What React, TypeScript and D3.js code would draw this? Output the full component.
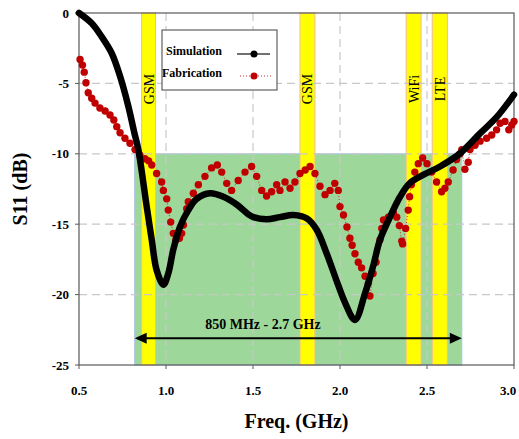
import React from "react";
import * as d3 from "d3";

// simulated S11 (GHz, dB)
const simFreq = [0.5, 0.573, 0.63, 0.688, 0.736, 0.784, 0.818, 0.841, 0.889, 0.918, 0.946, 0.985, 1.013, 1.042, 1.08, 1.128, 1.176, 1.253, 1.33, 1.406, 1.473, 1.502, 1.578, 1.655, 1.732, 1.81, 1.866, 1.924, 1.98, 2.03, 2.086, 2.144, 2.19, 2.23, 2.287, 2.345, 2.4, 2.478, 2.575, 2.69, 2.805, 2.9, 3.0];
const simS11 = [0, -0.73, -1.68, -2.86, -4.5, -6.65, -8.5, -9.7, -13.75, -16.1, -18.25, -19.3, -18.5, -16.8, -15.2, -14.0, -13.2, -12.8, -13.05, -13.6, -14.3, -14.5, -14.65, -14.5, -14.35, -14.6, -15.4, -17.1, -19.0, -20.6, -21.8, -19.9, -18.0, -16.1, -14.5, -13.05, -12.1, -11.5, -10.9, -9.97, -8.55, -7.4, -5.8];

// measured S11 (GHz, dB)
const fabFreq = [0.506, 0.52, 0.53, 0.54, 0.553, 0.573, 0.592, 0.62, 0.65, 0.678, 0.7, 0.717, 0.736, 0.764, 0.793, 0.822, 0.85, 0.879, 0.9, 0.918, 0.946, 0.975, 0.985, 1.004, 1.013, 1.027, 1.042, 1.057, 1.077, 1.09, 1.1, 1.119, 1.128, 1.157, 1.186, 1.224, 1.262, 1.295, 1.32, 1.349, 1.377, 1.415, 1.454, 1.492, 1.521, 1.55, 1.578, 1.607, 1.636, 1.655, 1.684, 1.713, 1.741, 1.77, 1.8, 1.828, 1.856, 1.885, 1.914, 1.943, 1.97, 1.99, 2.0, 2.02, 2.04, 2.057, 2.07, 2.086, 2.105, 2.124, 2.144, 2.163, 2.172, 2.19, 2.207, 2.23, 2.24, 2.25, 2.278, 2.307, 2.326, 2.341, 2.355, 2.36, 2.377, 2.392, 2.4, 2.41, 2.43, 2.45, 2.475, 2.5, 2.527, 2.555, 2.584, 2.603, 2.622, 2.65, 2.67, 2.69, 2.7, 2.718, 2.737, 2.747, 2.776, 2.805, 2.843, 2.872, 2.9, 2.92, 2.948, 2.97, 2.987, 3.0];
const fabS11 = [-3.3, -3.7, -4.2, -4.95, -5.66, -6.06, -6.4, -6.75, -6.96, -7.24, -7.6, -8.07, -8.5, -8.9, -9.25, -9.7, -10.1, -10.35, -10.5, -10.8, -11.4, -12.0, -12.6, -13.2, -14.0, -14.85, -15.65, -16.1, -16.0, -15.65, -15.06, -13.9, -13.4, -12.8, -12.2, -11.6, -11.0, -10.8, -11.3, -12.1, -12.6, -11.9, -11.3, -10.9, -11.6, -12.6, -13.0, -12.7, -12.2, -12.6, -12.0, -12.45, -12.0, -11.4, -11.15, -10.9, -11.4, -12.3, -12.9, -12.6, -12.1, -12.6, -13.75, -14.35, -15.2, -16.0, -16.5, -17.1, -17.7, -18.1, -18.7, -19.2, -20.1, -18.5, -17.7, -16.1, -15.3, -14.7, -14.5, -14.2, -14.5, -15.1, -16.2, -16.4, -15.3, -14.0, -13.05, -12.2, -11.3, -10.7, -10.3, -10.7, -11.3, -12.0, -12.7, -12.45, -12.0, -11.15, -10.4, -10.0, -9.7, -11.1, -10.6, -9.7, -9.4, -9.1, -8.9, -8.66, -8.3, -7.83, -7.7, -8.3, -7.95, -7.7];

const bandNames = ["GSM", "GSM", "WiFi", "LTE"];
const bandStart = [0.86, 1.77, 2.38, 2.53];
const bandEnd = [0.94, 1.856, 2.466, 2.617];

const coverStart = 0.82;
const coverEnd = 2.7;
const coverTop = -10;
const coverLabel = "850 MHz - 2.7 GHz";
const arrowLevel = -23.1;

const xTicks = [0.5, 1.0, 1.5, 2.0, 2.5, 3.0];
const yTicks = [0, -5, -10, -15, -20, -25];

const W = 519;
const H = 439;
const M = { top: 13, right: 5, bottom: 74, left: 79 };
const serif = "'Liberation Serif', 'Times New Roman', serif";

export default function App() {
  const x = d3.scaleLinear().domain([0.5, 3.0]).range([M.left, W - M.right]);
  const y = d3.scaleLinear().domain([0, -25]).range([M.top, H - M.bottom]);
  const [x0, x1] = x.range();
  const [y0, y1] = y.range();

  const simPts = simFreq.map((f, i) => [f, simS11[i]] as [number, number]);
  const fabPts = fabFreq.map((f, i) => [f, fabS11[i]] as [number, number]);

  const simLine = d3
    .line<[number, number]>()
    .x((d) => x(d[0]))
    .y((d) => y(d[1]))
    .curve(d3.curveCatmullRom.alpha(0.5));
  const fabLine = d3
    .line<[number, number]>()
    .x((d) => x(d[0]))
    .y((d) => y(d[1]));

  const ay = y(arrowLevel);
  const ax0 = x(coverStart);
  const ax1 = x(coverEnd);

  return (
    <svg width={W} height={H} style={{ position: "absolute", left: 0, top: 0, background: "#fff" }} fontFamily={serif}>
      {/* covered band */}
      <rect x={x(coverStart)} y={y(coverTop)} width={x(coverEnd) - x(coverStart)} height={y1 - y(coverTop)} fill="#9dd89a" stroke="#a9c4e6" strokeWidth={1} />

      {/* service bands */}
      {bandNames.map((n, i) => (
        <rect key={"b" + i} x={x(bandStart[i])} y={y0} width={x(bandEnd[i]) - x(bandStart[i])} height={y1 - y0} fill="#ffff00" stroke="#f4b8a0" strokeWidth={1} />
      ))}

      {/* grid */}
      {xTicks.slice(1, -1).map((t) => (
        <line key={"gx" + t} x1={x(t)} x2={x(t)} y1={y0} y2={y1} stroke="#c8c8c8" strokeWidth={1.2} strokeDasharray="8,5" />
      ))}
      {yTicks.slice(1, -1).map((t) => (
        <line key={"gy" + t} x1={x0} x2={x1} y1={y(t)} y2={y(t)} stroke="#c8c8c8" strokeWidth={1.2} strokeDasharray="8,5" />
      ))}

      {bandNames.map((n, i) => {
        const cx = (x(bandStart[i]) + x(bandEnd[i])) / 2;
        const cy = 89;
        return (
          <text key={"bl" + i} transform={`translate(${cx + 5},${cy}) rotate(-90)`} textAnchor="middle" fontSize={14} fill="#000">
            {n}
          </text>
        );
      })}

      {/* plot border */}
      <rect x={x0} y={y0} width={x1 - x0} height={y1 - y0} fill="none" stroke="#595959" strokeWidth={1.2} />

      {/* ticks */}
      {xTicks.map((t) => (
        <g key={"xt" + t}>
          <line x1={x(t)} x2={x(t)} y1={y1} y2={y1 + 4} stroke="#595959" />
          <text x={Math.min(x(t), W - 11)} y={y1 + 30} textAnchor="middle" fontSize={13} fontWeight="bold">
            {t.toFixed(1)}
          </text>
        </g>
      ))}
      {yTicks.map((t) => (
        <g key={"yt" + t}>
          <line x1={x0 - 4} x2={x0} y1={y(t)} y2={y(t)} stroke="#595959" />
          <text x={x0 - 10} y={y(t) + 4.5} textAnchor="end" fontSize={13} fontWeight="bold">
            {t}
          </text>
        </g>
      ))}

      {/* axis titles */}
      <text x={(x0 + x1) / 2} y={H - 11} textAnchor="middle" fontSize={20} fontWeight="bold">
        Freq. (GHz)
      </text>
      <text transform={`translate(${27},${(y0 + y1) / 2}) rotate(-90)`} textAnchor="middle" fontSize={20} fontWeight="bold">
        S11 (dB)
      </text>

      {/* measured */}
      <path d={fabLine(fabPts) || ""} fill="none" stroke="#c00000" strokeWidth={0.8} strokeDasharray="1,2" />
      {fabPts.map((d, i) => (
        <circle key={"f" + i} cx={x(d[0])} cy={y(d[1])} r={3.7} fill="#c00000" />
      ))}

      {/* simulated */}
      <path d={simLine(simPts) || ""} fill="none" stroke="#000" strokeWidth={6.5} strokeLinecap="round" strokeLinejoin="round" />

      {/* bandwidth arrow */}
      <line x1={ax0 + 10} x2={ax1 - 10} y1={ay} y2={ay} stroke="#000" strokeWidth={1.8} />
      <path d={`M${ax0},${ay} L${ax0 + 12},${ay - 5.5} L${ax0 + 12},${ay + 5.5} Z`} fill="#000" />
      <path d={`M${ax1},${ay} L${ax1 - 12},${ay - 5.5} L${ax1 - 12},${ay + 5.5} Z`} fill="#000" />
      <text x={263} y={ay - 9} textAnchor="middle" fontSize={14} fontWeight="bold">
        {coverLabel}
      </text>

      {/* legend */}
      <rect x={162} y={30} width={115} height={60} fill="#fff" stroke="#404040" strokeWidth={1} />
      <text x={166} y={55} fontSize={12} fontWeight="bold">Simulation</text>
      <line x1={237} x2={270} y1={54} y2={54} stroke="#404040" strokeWidth={1.5} />
      <circle cx={254} cy={54} r={3.5} fill="#000" />
      <text x={162} y={77} fontSize={12} fontWeight="bold">Fabrication</text>
      <line x1={240} x2={272} y1={76} y2={76} stroke="#c00000" strokeWidth={0.8} strokeDasharray="1,2" />
      <circle cx={254} cy={76} r={3.5} fill="#c00000" />
    </svg>
  );
}
